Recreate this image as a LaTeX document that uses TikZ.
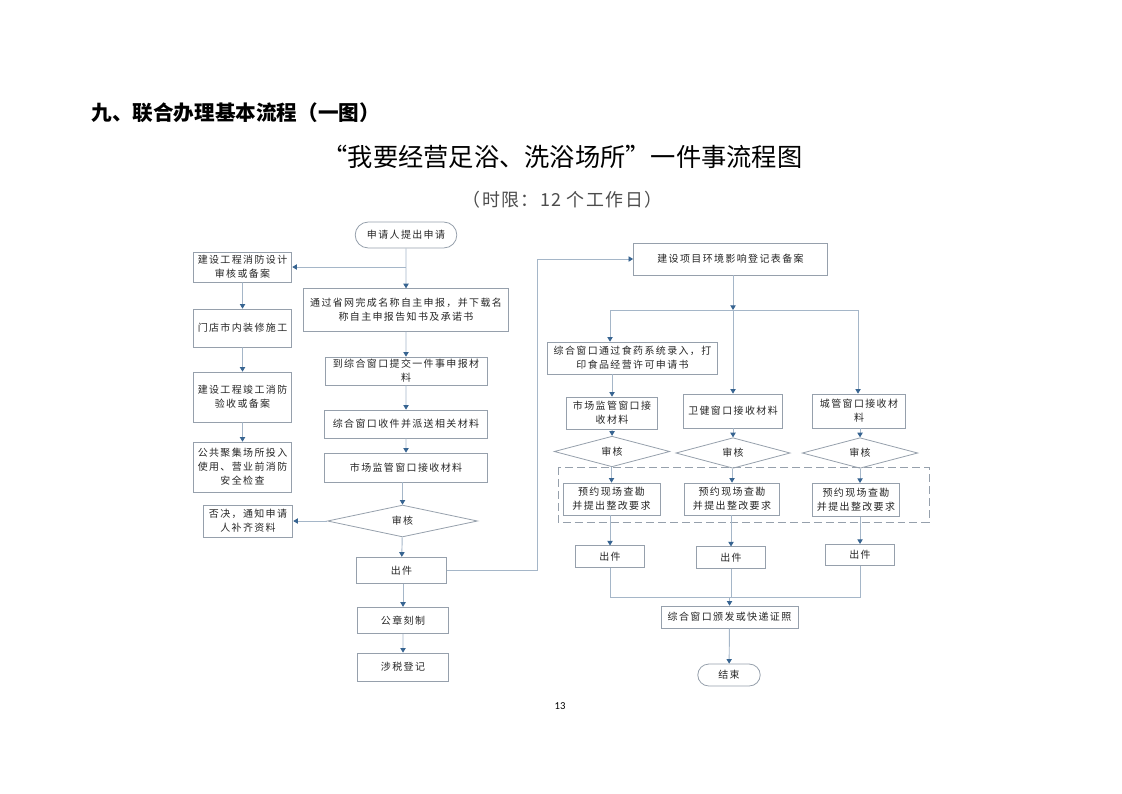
\documentclass[tikz,border=0pt]{standalone}
\usepackage{fontspec}
\usetikzlibrary{shapes.geometric,arrows.meta}
\setmainfont{Carlito}
\newfontfamily\cjk{Noto Sans CJK SC}
\newfontfamily\boxfont[LetterSpace=14]{Noto Sans CJK SC}
\newfontfamily\limitfont[LetterSpace=8]{Noto Sans CJK SC}
\XeTeXlinebreaklocale "zh"
\definecolor{linegray}{RGB}{165,182,200}
\definecolor{boxgray}{RGB}{150,160,172}
\definecolor{tipblue}{RGB}{55,100,145}

\begin{document}
\begin{tikzpicture}[scale=0.26458,
  box/.style={draw=boxgray, line width=0.6pt, fill=white, align=center, text=black!85,
    font=\boxfont\fontsize{7.5}{10.5}\selectfont},
  term/.style={box, rounded corners=#1},
  check/.style={box, diamond, inner sep=0pt},
  link/.style={draw=linegray, line width=0.7pt},
  flow/.style={link, -{Triangle[length=3.5pt,width=4pt,color=tipblue]}}]
\tikzstyle{every node}+=[inner sep=1pt]
\useasboundingbox (0,0) rectangle (112.2,-79.3);
\node [anchor=west, font=\cjk\bfseries\fontsize{15.5}{18}\selectfont] (heading) at (9.0,-11.3) {九、联合办理基本流程（一图）};
\node [font=\cjk\fontsize{19}{22}\selectfont] (title) at (56.25,-15.7) {“我要经营足浴、洗浴场所”一件事流程图};
\node [font=\limitfont\fontsize{13.5}{16}\selectfont, text=black!70] (limit) at (56.25,-20.0) {（时限：12 个工作日）};
\node [font=\fontsize{8}{9}\selectfont] (page) at (56.0,-70.6) {13};
\node [term=9.75pt, minimum width=76.5pt, minimum height=19.5pt] (start) at (40.6,-23.5) {申请人提出申请};
\node [box, minimum width=74.25pt, minimum height=22.5pt] (fireDesign) at (24.25,-26.7) {建设工程消防设计\\审核或备案};
\node [box, minimum width=154.5pt, minimum height=32pt] (nameApply) at (40.6,-31.0) {通过省网完成名称自主申报，并下载名\\称自主申报告知书及承诺书};
\node [box, minimum width=74.25pt, minimum height=28.5pt] (decor) at (24.25,-32.8) {门店市内装修施工};
\node [box, minimum width=122pt, minimum height=21pt] (submit) at (40.6,-37.1) {到综合窗口提交一件事申报材\\料};
\node [box, minimum width=74.25pt, minimum height=37.5pt] (fireAccept) at (24.25,-39.7) {建设工程竣工消防\\验收或备案};
\node [box, minimum width=123pt, minimum height=21pt] (dispatch) at (40.6,-42.4) {综合窗口收件并派送相关材料};
\node [box, minimum width=74.25pt, minimum height=37.5pt] (safety) at (24.25,-46.7) {公共聚集场所投入\\使用、营业前消防\\安全检查};
\node [box, minimum width=123pt, minimum height=21.75pt] (market) at (40.6,-46.75) {市场监管窗口接收材料};
\node [check, minimum width=113pt, minimum height=24pt] (review) at (40.25,-52.1) {审核};
\node [box, minimum width=67.5pt, minimum height=24pt] (reject) at (24.8,-52.1) {否决，通知申请\\人补齐资料};
\node [box, minimum width=68pt, minimum height=20pt] (issue) at (40.15,-57.05) {出件};
\node [box, minimum width=69pt, minimum height=20pt] (seal) at (40.3,-62.05) {公章刻制};
\node [box, minimum width=69pt, minimum height=21pt] (tax) at (40.3,-66.7) {涉税登记};
\node [box, minimum width=146pt, minimum height=24pt] (envRecord) at (73.05,-25.9) {建设项目环境影响登记表备案};
\node [box, minimum width=128pt, minimum height=24pt] (foodPrint) at (63.25,-35.8) {综合窗口通过食药系统录入，打\\印食品经营许可申请书};
\node [box, minimum width=69pt, minimum height=24pt] (marketR) at (61.2,-41.3) {市场监管窗口接\\收材料};
\node [box, minimum width=75pt, minimum height=25.5pt] (health) at (73.3,-41.1) {卫健窗口接收材料};
\node [box, minimum width=70.5pt, minimum height=25.5pt] (urban) at (85.9,-41.1) {城管窗口接收材\\料};
\node [check, minimum width=87pt, minimum height=17.5pt] (review1) at (61.2,-45.15) {审核};
\node [check, minimum width=86pt, minimum height=18pt] (review2) at (73.3,-45.3) {审核};
\node [check, minimum width=87pt, minimum height=18pt] (review3) at (86.0,-45.3) {审核};
\draw [boxgray, line width=0.6pt, dash pattern=on 6pt off 3pt] (55.8,-46.7) rectangle (92.9,-52.2);
\node [box, minimum width=73pt, minimum height=24pt] (inspect1) at (61.15,-49.9) {预约现场查勘\\并提出整改要求};
\node [box, minimum width=72pt, minimum height=24pt] (inspect2) at (73.2,-49.9) {预约现场查勘\\并提出整改要求};
\node [box, minimum width=66pt, minimum height=25pt] (inspect3) at (85.6,-50.0) {预约现场查勘\\并提出整改要求};
\node [box, minimum width=52.5pt, minimum height=16pt] (out1) at (61.0,-55.65) {出件};
\node [box, minimum width=52.5pt, minimum height=16pt] (out2) at (73.1,-55.75) {出件};
\node [box, minimum width=52.5pt, minimum height=16pt] (out3) at (86.0,-55.5) {出件};
\node [box, minimum width=103pt, minimum height=16.5pt] (license) at (72.95,-61.7) {综合窗口颁发或快递证照};
\node [term=8.25pt, minimum width=47pt, minimum height=16.5pt] (finish) at (72.9,-67.5) {结束};
\coordinate (turn) at (53.7,-25.9);
\coordinate (split) at (73.3,-31.0);
\coordinate (splitL) at (61.0,-31.0);
\coordinate (splitR) at (85.8,-31.0);
\coordinate (joinL) at (61.0,-59.7);
\coordinate (joinR) at (86.0,-59.7);
\draw [flow] (start) -- (nameApply);
\draw [flow] (start.south |- fireDesign.east) -- (fireDesign.east);
\draw [flow] (fireDesign) -- (decor);
\draw [flow] (decor) -- (fireAccept);
\draw [flow] (fireAccept) -- (safety);
\draw [flow] (nameApply) -- (submit);
\draw [flow] (submit) -- (dispatch);
\draw [flow] (dispatch) -- (market);
\draw [flow] (market.south -| review.north) -- (review.north);
\draw [flow] (review.west) -- (reject.east);
\draw [flow] (review) -- (issue);
\draw [flow] (issue.south -| seal.north) -- (seal.north);
\draw [flow] (seal) -- (tax);
\draw [flow] (issue.east) -| (turn) -- (envRecord.west);
\draw [flow] (split |- envRecord.south) -- (split);
\draw [link] (splitL) -- (splitR);
\draw [flow] (splitL) -- (splitL |- foodPrint.north);
\draw [flow] (split) -- (health.north);
\draw [flow] (splitR) -- (splitR |- urban.north);
\draw [flow] (marketR.north |- foodPrint.south) -- (marketR.north);
\draw [flow] (marketR) -- (review1);
\draw [flow] (health.south -| review2.north) -- (review2.north);
\draw [flow] (urban.south -| review3.north) -- (review3.north);
\draw [flow] (review1.south -| inspect1.north) -- (inspect1.north);
\draw [flow] (review2.south -| inspect2.north) -- (inspect2.north);
\draw [flow] (review3.south) -- (review3.south |- inspect3.north);
\draw [flow] (inspect1.south -| out1.north) -- (out1.north);
\draw [flow] (inspect2.south -| out2.north) -- (out2.north);
\draw [flow] (inspect3.south -| out3.north) -- (out3.north);
\draw [link] (out1.south -| joinL) -- (joinL) -- (joinR) -- (out3.south -| joinR);
\draw [link] (out2.south) -- (out2.south |- joinL);
\draw [flow] (license.north |- joinL) -- (license.north);
\draw [flow] (license) -- (finish);
\end{tikzpicture}
\end{document}
